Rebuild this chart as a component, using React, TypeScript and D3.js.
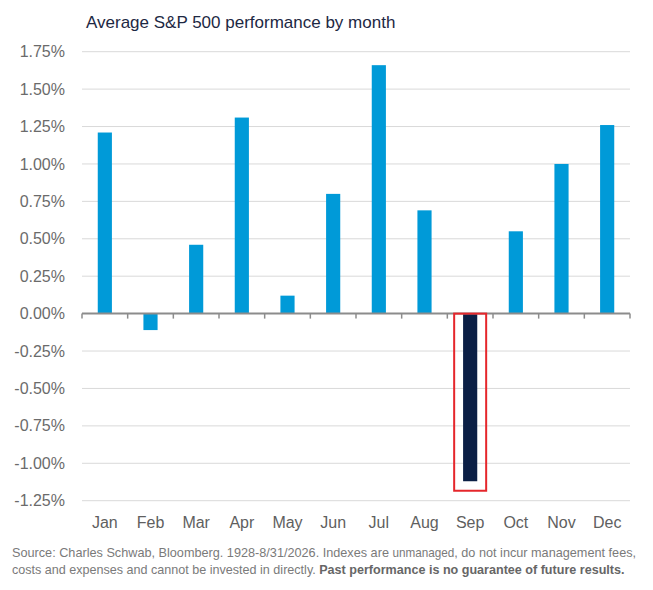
import { useEffect, useRef } from "react";
import * as d3 from "d3";

const months = ["Jan", "Feb", "Mar", "Apr", "May", "Jun", "Jul", "Aug", "Sep", "Oct", "Nov", "Dec"];
const avgReturn = [1.21, -0.11, 0.46, 1.31, 0.12, 0.8, 1.66, 0.69, -1.12, 0.55, 1.0, 1.26];
const yTicks = [1.75, 1.5, 1.25, 1.0, 0.75, 0.5, 0.25, 0, -0.25, -0.5, -0.75, -1.0, -1.25];
const highlightMonth = "Sep";

const title = "Average S&P 500 performance by month";
const sourceA = "Source: Charles Schwab, Bloomberg. 1928-8/31/2026. Indexes are ";
const sourceB = "unmanaged";
const sourceC = ", do not incur management fees,";
const sourceD = "costs and expenses and cannot be invested in directly. ";
const sourceE = "Past performance is no guarantee of future results.";

const width = 653;
const height = 590;
const margin = { top: 51.7, right: 23, bottom: 89.3, left: 82 };

const BarChart = () => {
  const svgRef = useRef<SVGSVGElement>(null);

  useEffect(() => {
    if (!svgRef.current) return;
    const svg = d3.select(svgRef.current);
    svg.selectAll("*").remove();

    const x = d3
      .scaleBand<string>()
      .domain(months)
      .range([margin.left, width - margin.right])
      .padding(0);
    const y = d3
      .scaleLinear()
      .domain([-1.25, 1.75])
      .range([height - margin.bottom, margin.top]);

    const barW = x.bandwidth() * 0.31;
    const font = "'Liberation Sans', Arial, sans-serif";

    // title
    svg
      .append("text")
      .attr("x", 86)
      .attr("y", 28)
      .attr("font-family", font)
      .attr("font-size", 17)
      .attr("fill", "#1d2843")
      .text(title);

    // gridlines (zero is drawn as the axis)
    svg
      .append("g")
      .selectAll("line")
      .data(yTicks.filter((d) => d !== 0))
      .join("line")
      .attr("x1", margin.left)
      .attr("x2", width - margin.right)
      .attr("y1", (d) => y(d))
      .attr("y2", (d) => y(d))
      .attr("stroke", "#d9d9d9")
      .attr("stroke-width", 1);

    // y labels
    svg
      .append("g")
      .selectAll("text")
      .data(yTicks)
      .join("text")
      .attr("x", 65)
      .attr("y", (d) => y(d))
      .attr("dy", "0.35em")
      .attr("text-anchor", "end")
      .attr("font-family", font)
      .attr("font-size", 16)
      .attr("fill", "#6b6b6b")
      .text((d) => d3.format(".2f")(d).replace("−", "-") + "%");

    // bars
    svg
      .append("g")
      .selectAll("rect")
      .data(months)
      .join("rect")
      .attr("x", (m) => (x(m) ?? 0) + (x.bandwidth() - barW) / 2)
      .attr("width", barW)
      .attr("y", (m, i) => y(Math.max(0, avgReturn[i])))
      .attr("height", (m, i) => Math.abs(y(avgReturn[i]) - y(0)))
      .attr("fill", (m) => (m === highlightMonth ? "#0b1f45" : "#009ad8"));

    // zero axis with ticks at band edges
    const edges = months.map((m) => x(m) ?? 0).concat([width - margin.right]);
    svg
      .append("line")
      .attr("x1", margin.left)
      .attr("x2", width - margin.right)
      .attr("y1", y(0))
      .attr("y2", y(0))
      .attr("stroke", "#8c8c8c")
      .attr("stroke-width", 2);
    svg
      .append("g")
      .selectAll("line")
      .data(edges)
      .join("line")
      .attr("x1", (d) => d)
      .attr("x2", (d) => d)
      .attr("y1", y(0))
      .attr("y2", y(0) + 5)
      .attr("stroke", "#8c8c8c")
      .attr("stroke-width", 1.5);

    // highlight box around September
    const hi = months.indexOf(highlightMonth);
    const cx = (x(highlightMonth) ?? 0) + x.bandwidth() / 2;
    svg
      .append("rect")
      .attr("x", cx - 16)
      .attr("y", y(0))
      .attr("width", 32)
      .attr("height", y(avgReturn[hi]) - y(0) + 9.5)
      .attr("fill", "none")
      .attr("stroke", "#e5262b")
      .attr("stroke-width", 2);

    // x labels
    svg
      .append("g")
      .selectAll("text")
      .data(months)
      .join("text")
      .attr("x", (m) => (x(m) ?? 0) + x.bandwidth() / 2)
      .attr("y", 528)
      .attr("text-anchor", "middle")
      .attr("font-family", font)
      .attr("font-size", 16)
      .attr("fill", "#5f5f5f")
      .text((m) => m);

    // footer: natural text, then squeezed horizontally to the reference width
    const footerLine = (yPos: number, target: number) => {
      const g = svg.append("g");
      const t = g
        .append("text")
        .attr("x", 0)
        .attr("y", 0)
        .attr("font-family", font)
        .attr("font-size", 13)
        .attr("fill", "#7a7a7a");
      const w = () => (t.node() as SVGTextElement).getComputedTextLength();
      return { g, t, fit: () => g.attr("transform", `translate(12,${yPos}) scale(${target / w()},1)`) };
    };

    const l1 = footerLine(557, 625);
    l1.t.append("tspan").text(sourceA);
    l1.t.append("tspan").attr("font-size", 12).text(sourceB);
    l1.t.append("tspan").text(sourceC);
    l1.fit();

    const l2 = footerLine(574, 613);
    l2.t.append("tspan").text(sourceD);
    l2.t.append("tspan").attr("font-weight", "bold").attr("fill", "#666666").text(sourceE);
    l2.fit();
  }, []);

  return (
    <svg
      ref={svgRef}
      width={width}
      height={height}
      style={{ position: "absolute", left: 0, top: 0, background: "#fff" }}
    />
  );
};

export default function App() {
  return <BarChart />;
}
